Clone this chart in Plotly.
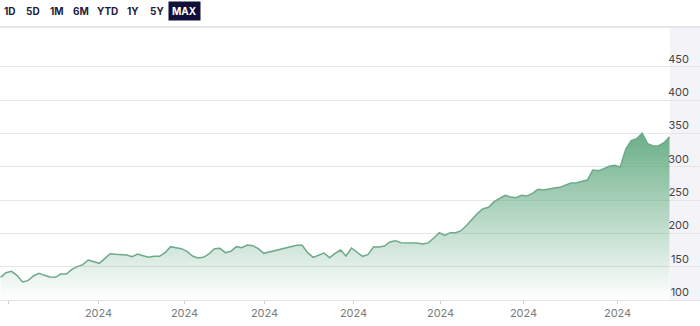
import plotly.graph_objects as go

# ---- data ----
prices = [134, 141, 143, 137, 127, 129, 136, 140, 137, 134.5,
          134, 139, 139, 146, 150, 153, 160, 158, 155, 162,
          169.5, 168.5, 167.5, 167.5, 165, 169, 166.5, 164, 165.5, 165.5,
          171, 180, 178.5, 177, 173, 166, 163, 164, 169, 177,
          177.5, 171, 173, 180, 178.5, 182.5, 181.5, 177, 170, 172,
          175, 177, 178, 180, 182, 182, 171, 164, 167, 170.5,
          163.5, 170, 175, 166, 178, 172, 165.5, 168, 179.5, 179.5,
          181, 187, 189, 186, 186.2, 186.4, 185.5, 184, 185.7, 193,
          201, 197, 201, 201, 204, 212, 221, 230, 237, 239,
          247.5, 252, 257, 254.5, 253.5, 257, 256, 260, 266, 265,
          267, 268, 269, 272, 275.5, 276, 278, 280, 295, 294,
          297, 300.5, 302, 299.5, 326, 339, 342, 350, 334.5, 331,
          331.5, 336, 345]
days = list(range(len(prices)))
tick_days = [1.46, 17.87, 33.55, 48.14, 64.37, 80.24, 95.37, 112.52]
tick_labels = ["2024"] * len(tick_days)
y_ticks = [100, 150, 200, 250, 300, 350, 400, 450]
buttons = ["1D", "5D", "1M", "6M", "YTD", "1Y", "5Y"]
button_px = [10, 33, 57, 80.5, 107, 133, 157]

W, H = 700, 326
T, B = 28, 26
plot_h = H - T - B

fig = go.Figure()
fig.add_trace(go.Scatter(
    x=days, y=prices, mode="lines",
    line=dict(color="#6ea98a", width=1.5),
    fill="tozeroy",
    fillgradient=dict(type="vertical", start=100, stop=350,
                      colorscale=[[0, "rgba(106,174,134,0.0)"],
                                  [1, "rgba(98,170,128,0.95)"]]),
    hoverinfo="skip", showlegend=False,
))

font = "Inter, Roboto, sans-serif"
fig.update_layout(
    width=W, height=H,
    margin=dict(l=0, r=0, t=T, b=B),
    paper_bgcolor="white", plot_bgcolor="white",
    xaxis=dict(range=[-0.1, 127.55], tickmode="array", tickvals=tick_days,
               ticktext=tick_labels, ticks="outside", ticklen=3,
               tickcolor="#d0d0d0", showgrid=False, zeroline=False,
               showline=True, linecolor="#e3e3e3", linewidth=1,
               tickfont=dict(family=font, size=11, color="#7a7a7a")),
    yaxis=dict(range=[100, 508], side="right", tickmode="array",
               tickvals=y_ticks, ticklabelposition="inside top",
               showgrid=True, gridcolor="#e6e6e6", gridwidth=1,
               zeroline=False, showline=False, ticklabelstandoff=8,
               tickfont=dict(family=font, size=11, color="#444")),
    shapes=[
        dict(type="rect", xref="paper", yref="paper", x0=670 / W, x1=1,
             y0=0, y1=1, fillcolor="#f4f4f8", line=dict(width=0), layer="below"),
        dict(type="line", xref="paper", yref="paper", x0=0, x1=1,
             y0=1 + 1 / plot_h, y1=1 + 1 / plot_h,
             line=dict(color="#dedede", width=1.5)),
    ],
)

by = 1 + (T - 11) / plot_h
for label, px in zip(buttons, button_px):
    fig.add_annotation(text=label, xref="paper", yref="paper", x=px / W, y=by,
                       xanchor="center", yanchor="middle", showarrow=False,
                       font=dict(family=font, size=10, color="#1c1c3c", weight="bold"))
fig.add_annotation(text="MAX", xref="paper", yref="paper", x=184 / W, y=by,
                   xanchor="center", yanchor="middle", showarrow=False,
                   bgcolor="#10103a", borderpad=3,
                   font=dict(family=font, size=10, color="white", weight="bold"))

fig.write_html("out.html")
